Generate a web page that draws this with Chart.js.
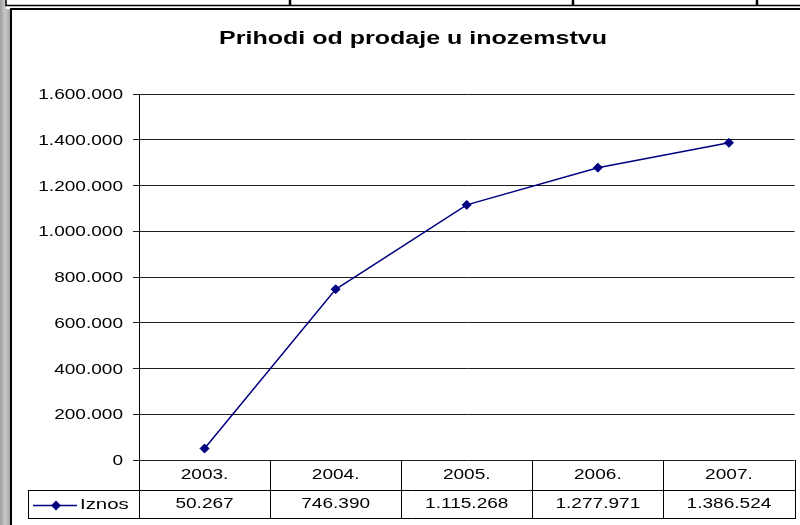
<!DOCTYPE html>
<html><head><meta charset="utf-8">
<script src="https://cdn.jsdelivr.net/npm/chart.js@4.4.1/dist/chart.umd.min.js"></script>
<style>html,body{margin:0;padding:0;background:#fff;overflow:hidden}canvas{display:block}</style>
</head><body>
<canvas id="c" width="800" height="525"></canvas>
<script>
const chartTitle = 'Prihodi od prodaje u inozemstvu';
const categories = ['2003.', '2004.', '2005.', '2006.', '2007.'];
const seriesName = 'Iznos';
const iznos = [50267, 746390, 1115268, 1277971, 1386524];
const valueLabels = ['50.267', '746.390', '1.115.268', '1.277.971', '1.386.524'];
const yTickLabels = ['0', '200.000', '400.000', '600.000', '800.000', '1.000.000', '1.200.000', '1.400.000', '1.600.000'];
const yMin = 0, yMax = 1600000, yStep = 200000;

const NAVY = '#000080';
const FONT = '"Liberation Sans", Arial, sans-serif';
const SX = 1.27;

function sText(ctx, text, x, y, font, sx, align) {
  ctx.save();
  ctx.font = font; ctx.fillStyle = '#000';
  ctx.textBaseline = 'middle'; ctx.textAlign = align;
  ctx.translate(x, y); ctx.scale(sx, 1);
  ctx.fillText(text, 0, 0);
  ctx.restore();
}
function hline(ctx, x1, x2, y) { ctx.beginPath(); ctx.moveTo(x1, Math.round(y) + 0.5); ctx.lineTo(x2, Math.round(y) + 0.5); ctx.stroke(); }
function vline(ctx, x, y1, y2) { ctx.beginPath(); ctx.moveTo(Math.round(x) + 0.5, y1); ctx.lineTo(Math.round(x) + 0.5, y2); ctx.stroke(); }

const frame = {
  id: 'frame',
  beforeDraw(chart) {
    const ctx = chart.ctx, W = chart.width, H = chart.height;
    ctx.save();
    ctx.fillStyle = '#fff'; ctx.fillRect(0, 0, W, H);
    const g = ctx.createLinearGradient(0, 0, 10, 0);
    g.addColorStop(0, '#9c9c9c'); g.addColorStop(0.5, '#c8c8c8'); g.addColorStop(1, '#a8a8a8');
    ctx.fillStyle = g; ctx.fillRect(0, 0, 10, H);
    ctx.fillStyle = '#fff'; ctx.fillRect(6, 0, W - 6, 9);
    ctx.strokeStyle = '#000';
    ctx.lineWidth = 1.5;
    ctx.beginPath(); ctx.moveTo(6, 0); ctx.lineTo(6, 5.5); ctx.lineTo(W, 5.5); ctx.stroke();
    ctx.lineWidth = 2.5;
    [290, 573, 757].forEach(x => { ctx.beginPath(); ctx.moveTo(x, 0); ctx.lineTo(x, 5); ctx.stroke(); });
    ctx.lineWidth = 2;
    ctx.beginPath(); ctx.moveTo(10, 9); ctx.lineTo(W, 9); ctx.stroke();
    ctx.beginPath(); ctx.moveTo(11, 8); ctx.lineTo(11, H); ctx.stroke();
    ctx.restore();
  },
  afterDraw(chart) {
    const ctx = chart.ctx, area = chart.chartArea;
    const xs = chart.scales.x, ys = chart.scales.y;
    // title
    sText(ctx, chartTitle, 413, 39, 'bold 18px ' + FONT, 1.39, 'center');
    // y tick labels
    ys.ticks.forEach((t, i) => {
      sText(ctx, yTickLabels[i], 123, ys.getPixelForValue(t.value) + 1, '15px ' + FONT, SX, 'right');
    });
    // data table
    const n = categories.length;
    const colW = xs.getPixelForValue(1) - xs.getPixelForValue(0);
    const top = area.bottom, mid = top + 30, bot = mid + 28;
    const legLeft = 28;
    ctx.save();
    ctx.strokeStyle = '#000'; ctx.lineWidth = 1;
    hline(ctx, legLeft, area.right + 1, mid);
    hline(ctx, legLeft, area.right + 1, bot);
    vline(ctx, legLeft, mid, bot + 1);
    for (let i = 0; i <= n; i++) {
      const bx = i < n ? xs.getPixelForValue(i) - colW / 2 : xs.getPixelForValue(n - 1) + colW / 2;
      vline(ctx, bx, top, bot + 1);
    }
    ctx.restore();
    for (let i = 0; i < n; i++) {
      const cx = xs.getPixelForValue(i);
      sText(ctx, categories[i], cx, top + 15, '15px ' + FONT, SX, 'center');
      sText(ctx, valueLabels[i], cx, mid + 14, '15px ' + FONT, SX, 'center');
    }
    // legend key
    const ly = mid + 15.5;
    ctx.save();
    ctx.strokeStyle = NAVY; ctx.lineWidth = 1.5;
    ctx.beginPath(); ctx.moveTo(33, ly); ctx.lineTo(77, ly); ctx.stroke();
    ctx.fillStyle = NAVY;
    ctx.beginPath(); ctx.moveTo(56, ly - 5); ctx.lineTo(61, ly); ctx.lineTo(56, ly + 5); ctx.lineTo(51, ly); ctx.closePath(); ctx.fill();
    ctx.restore();
    sText(ctx, seriesName, 80, ly - 1, '15px ' + FONT, 1.36, 'left');
  }
};

new Chart(document.getElementById('c'), {
  type: 'line',
  data: {
    labels: categories,
    datasets: [{
      label: seriesName, data: iznos,
      borderColor: NAVY, backgroundColor: NAVY, borderWidth: 1.5,
      pointStyle: 'rectRot', pointRadius: 4.5, pointBorderWidth: 1,
      pointBackgroundColor: NAVY, pointBorderColor: NAVY,
      tension: 0, fill: false
    }]
  },
  options: {
    responsive: false, animation: false, devicePixelRatio: 1,
    layout: { padding: { top: 94, right: 1, bottom: 65, left: 0 } },
    plugins: { legend: { display: false }, title: { display: false }, tooltip: { enabled: false } },
    scales: {
      x: { type: 'category', offset: true, display: false },
      y: {
        min: yMin, max: yMax,
        ticks: { stepSize: yStep, display: false },
        grid: { color: '#1e1e1e', lineWidth: 1, tickLength: 6, drawTicks: true, tickColor: '#1e1e1e' },
        border: { display: true, color: '#000', width: 1 },
        afterFit(s) { s.width = 139; }
      }
    }
  },
  plugins: [frame]
});
</script>
</body></html>
